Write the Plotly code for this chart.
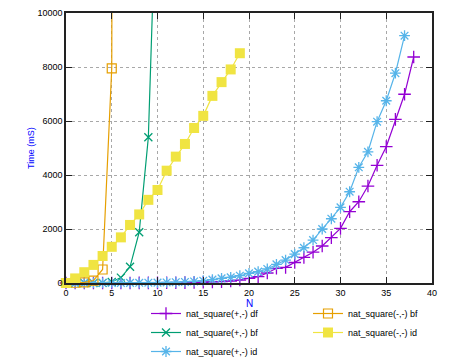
import plotly.graph_objects as go

# ---- data ----
n_df = list(range(0, 39))
df_pm = [0, 0, 0, 0, 1, 1, 1, 2, 3, 4, 6, 8, 11, 15, 20, 28, 38, 52, 75, 110,
         172, 233, 370, 545, 580, 760, 950, 1140, 1370, 1680, 2025, 2640, 3010,
         3590, 4360, 5050, 6060, 6990, 8370]

n_bf_pm = list(range(0, 11))
bf_pm = [0, 0, 0, 0, 5, 40, 200, 600, 1880, 5400, 16000]

n_id_pm = list(range(0, 38))
id_pm = [0, 0, 0, 1, 1, 2, 3, 5, 7, 10, 14, 20, 28, 40, 58, 85, 125, 170, 210,
         270, 360, 420, 520, 690, 850, 1070, 1305, 1590, 2000, 2380, 2800, 3380,
         4285, 4860, 5975, 6750, 7770, 9160]

n_bf_mm = list(range(0, 7))
bf_mm = [0, 10, 25, 90, 500, 7950, 150000]

n_id_mm = list(range(0, 20))
id_mm = [0, 170, 400, 670, 1000, 1340, 1690, 2150, 2540, 3080, 3444, 4160, 4680,
         5150, 5740, 6190, 6930, 7440, 7910, 8510]

names = ["nat_square(+,-) df", "nat_square(+,-) bf", "nat_square(+,-) id",
         "nat_square(-,-) bf", "nat_square(-,-) id"]
x_ticks = [0, 5, 10, 15, 20, 25, 30, 35, 40]
y_ticks = [0, 2000, 4000, 6000, 8000, 10000]
x_title = "N"
y_title = "Time (mS)"

FONT = "Liberation Sans, Arial, sans-serif"

series = [
    (n_df, df_pm, names[0], "#9400D3", dict(symbol="cross-thin", size=9, line=dict(width=1.3, color="#9400D3")), "legend"),
    (n_bf_pm, bf_pm, names[1], "#009E73", dict(symbol="x-thin", size=8, line=dict(width=1.3, color="#009E73")), "legend"),
    (n_id_pm, id_pm, names[2], "#56B4E9", dict(symbol="asterisk", size=9, line=dict(width=1.3, color="#56B4E9")), "legend"),
    (n_bf_mm, bf_mm, names[3], "#E69F00", dict(symbol="square-open", size=9, line=dict(width=1.2, color="#E69F00")), "legend2"),
    (n_id_mm, id_mm, names[4], "#F0E442", dict(symbol="square", size=10, line=dict(width=0)), "legend2"),
]

fig = go.Figure()
for xs, ys, nm, col, mk, lg in series:
    fig.add_trace(go.Scatter(
        x=xs, y=ys, name=nm, mode="lines+markers",
        line=dict(color=col, width=1.2),
        marker=dict(color=col, **mk),
        legend=lg, cliponaxis=False,
    ))

axis_common = dict(
    showline=True, linecolor="#222", linewidth=1.5, mirror="allticks",
    ticks="inside", ticklen=6, tickcolor="#222", tickwidth=1,
    showgrid=True, gridcolor="#a8a8a8", griddash="dot", gridwidth=1,
    zeroline=False, tickfont=dict(family=FONT, size=9, color="black"),
)

fig.update_xaxes(range=[0, 40], tickvals=x_ticks, ticktext=[str(v) for v in x_ticks],
                 **axis_common)
fig.update_yaxes(range=[0, 10000], tickvals=y_ticks, ticktext=[str(v) for v in y_ticks],
                 **axis_common)

# axis titles as annotations for exact placement
fig.add_annotation(text=x_title, xref="paper", yref="paper", x=0.5, y=0,
                   xanchor="center", yanchor="middle", yshift=-20, showarrow=False,
                   font=dict(family=FONT, size=10, color="#0000FF"))
fig.add_annotation(text=y_title, xref="paper", yref="paper", x=0, y=0.5,
                   xanchor="center", yanchor="middle", xshift=-35, textangle=-90,
                   showarrow=False, font=dict(family=FONT, size=9, color="#0000FF"))

leg_common = dict(orientation="v", xanchor="left", yanchor="top", y=-16 / 270,
                  itemwidth=30, font=dict(family=FONT, size=9, color="black"),
                  bgcolor="rgba(0,0,0,0)", borderwidth=0)

# page has an 8px body margin: figure is 442x352 so plot area lands at x 66-432, y 13-283
fig.update_layout(
    width=442, height=352,
    margin=dict(l=58, r=18, t=5, b=77, autoexpand=False),
    paper_bgcolor="white", plot_bgcolor="white",
    font=dict(family=FONT, size=9, color="black"),
    showlegend=True,
    legend=dict(x=(146 - 66) / 366, **leg_common),
    legend2=dict(x=(308 - 66) / 366, **leg_common),
)

fig.write_html("out.html")
